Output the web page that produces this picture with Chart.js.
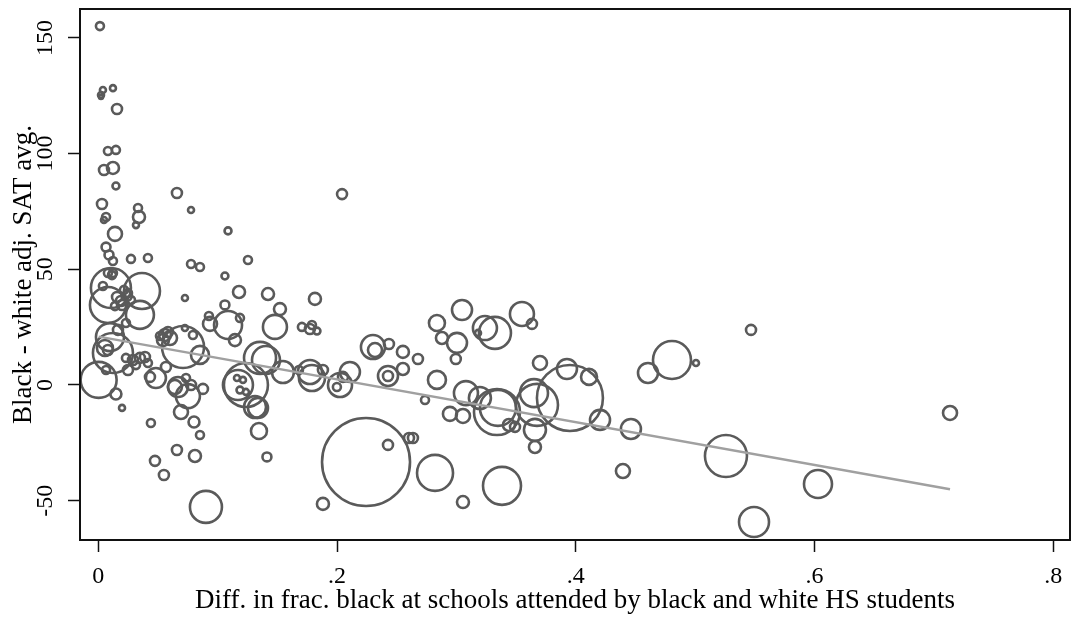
<!DOCTYPE html>
<html>
<head>
<meta charset="utf-8">
<script src="https://cdn.jsdelivr.net/npm/chart.js@4.4.1/dist/chart.umd.min.js"></script>
<style>
    html, body { margin: 0; padding: 0; background: #fff; }
</style>
</head>
<body>
<canvas id="myChart" width="1072" height="619"></canvas>
<script>
// diff. in frac. black (x), black - white adj. SAT avg. (y), weight of each college
var xVals = [
    0.0014, 0.0039, 0.0023, 0.0023, 0.0123, 0.0157, 0.0081, 0.0148, 0.0048, 0.0123,
    0.0148, 0.0659, 0.0777, 0.2042, 0.0031, 0.0333, 0.0341, 0.0065, 0.0048, 0.0316,
    0.0140, 0.1087, 0.0065, 0.0090, 0.0123, 0.0274, 0.0416, 0.0777, 0.0852, 0.1254,
    0.1061, 0.0115, 0.0039, 0.0106, 0.0366, 0.1179, 0.1422, 0.1815, 0.0726, 0.1061,
    0.1522, 0.0081, 0.0349, 0.0927, 0.0936, 0.1087, 0.1187, 0.1480, 0.1706, 0.1773,
    0.1790, 0.1832, 0.0081, 0.0123, 0.0157, 0.0190, 0.0240, 0.0140, 0.0249, 0.0199,
    0.0274, 0.0215, 0.0003, 0.0065, 0.0148, 0.0199, 0.0123, 0.0056, 0.0081, 0.0098,
    0.0165, 0.0232, 0.0232, 0.0291, 0.0349, 0.0391, 0.0416, 0.0316, 0.0249, 0.0433,
    0.0483, 0.0567, 0.0559, 0.0584, 0.0542, 0.0601, 0.0517, 0.0710, 0.0726, 0.0793,
    0.0852, 0.0668, 0.0642, 0.0735, 0.0777, 0.0877, 0.0751, 0.0693, 0.0802, 0.0852,
    0.1145, 0.1170, 0.1237, 0.1162, 0.1212, 0.1187, 0.1237, 0.1313, 0.1338, 0.1346,
    0.1413, 0.1355, 0.1405, 0.1547, 0.1773, 0.1790, 0.1681, 0.1882, 0.2025, 0.1999,
    0.2050, 0.2108, 0.2243, 0.2427, 0.1882, 0.2603, 0.2636, 0.0902, 0.0441, 0.0475,
    0.0550, 0.0659, 0.0810, 0.2301, 0.2318, 0.2435, 0.2552, 0.2552, 0.2427, 0.2427,
    0.2678, 0.3047, 0.2837, 0.2879, 0.3005, 0.2995, 0.3239, 0.3323, 0.3181, 0.3549,
    0.3633, 0.2837, 0.2737, 0.3080, 0.3197, 0.3340, 0.3348, 0.2946, 0.3055, 0.3440,
    0.3491, 0.3658, 0.3658, 0.3650, 0.3675, 0.3700, 0.3951, 0.3926, 0.4111, 0.4203,
    0.2821, 0.3382, 0.3055, 0.4395, 0.4462, 0.5468, 0.4806, 0.4605, 0.5007, 0.5258,
    0.6029, 0.5493, 0.7135
];
var yVals = [
    155.1, 127.5, 125.3, 124.5, 128.3, 119.3, 101.1, 101.6, 92.9, 93.8,
    86.0, 83.0, 75.6, 82.5, 78.2, 76.5, 72.6, 72.6, 71.3, 69.1,
    65.3, 66.6, 59.6, 56.2, 53.6, 54.5, 54.9, 52.3, 51.0, 54.0,
    47.1, 47.5, 42.8, 41.9, 40.6, 40.2, 39.3, 37.2, 37.6, 34.6,
    32.8, 34.6, 30.3, 29.8, 26.4, 25.9, 29.0, 25.1, 25.1, 24.2,
    25.9, 23.3, 48.4, 48.4, 38.0, 36.3, 38.5, 34.1, 39.8, 34.6,
    36.7, 41.1, 2.2, 6.5, -3.9, -9.9, 13.8, 16.0, 15.1, 20.7,
    23.8, 26.8, 11.7, 10.8, 11.7, 12.1, 9.5, 8.6, 6.5, 3.5,
    3.0, 7.8, 21.6, 22.9, 19.4, 20.3, 21.2, 16.4, 24.6, 21.6,
    13.0, -0.9, -0.9, 3.0, 0, -1.7, -4.8, -11.7, -16.0, -21.6,
    19.4, 0, 0, 3.0, 2.2, -2.2, -3.0, -9.5, -9.9, -19.9,
    -31.1, 11.7, 10.8, 5.6, 5.6, 3.0, 6.5, 6.5, 0, -0.9,
    3.5, 5.6, -33.3, -25.9, -51.4, -22.9, -22.9, -52.7, -16.4, -32.8,
    -38.9, -28.1, -30.7, 16.4, 15.1, 17.7, 14.3, 6.9, 3.9, 3.9,
    11.2, 32.4, 26.8, 20.3, 18.2, 11.2, 24.6, 22.5, 22.5, 30.7,
    26.4, 2.2, -6.5, -3.5, -5.6, -11.7, -9.9, -12.5, -13.4, -17.3,
    -18.1, -19.4, -26.8, -3.5, -8.6, 9.5, -5.6, 6.9, 3.5, -15.1,
    -38.0, -43.6, -50.6, -37.2, -19.0, 23.8, 10.8, 5.2, 9.5, -30.7,
    -42.8, -59.2, -12.1
];
var weights = [
    16, 9, 9, 4, 9, 25, 16, 16, 25, 36,
    12, 25, 9, 25, 25, 16, 36, 16, 9, 9,
    49, 12, 20, 20, 16, 16, 16, 16, 16, 16,
    12, 16, 16, 400, 324, 36, 36, 36, 9, 20,
    36, 324, 196, 16, 49, 196, 16, 144, 16, 25,
    16, 12, 16, 16, 25, 25, 25, 16, 16, 25,
    16, 16, 324, 16, 30, 9, 400, 64, 25, 196,
    25, 16, 16, 25, 25, 25, 16, 16, 25, 25,
    100, 25, 36, 25, 36, 49, 16, 441, 9, 16,
    81, 100, 49, 16, 25, 25, 144, 49, 30, 16,
    36, 225, 484, 9, 9, 12, 9, 121, 100, 64,
    20, 256, 196, 121, 144, 169, 16, 25, 144, 16,
    25, 100, 1936, 25, 36, 25, 25, 256, 16, 25,
    25, 25, 36, 144, 49, 25, 36, 36, 100, 25,
    25, 100, 64, 36, 100, 25, 144, 256, 9, 144,
    25, 81, 16, 144, 121, 529, 324, 49, 49, 36,
    25, 121, 36, 196, 441, 49, 1089, 100, 64, 100,
    324, 361, 36, 49, 100, 25, 361, 100, 9, 441,
    196, 225, 49
];

// fitted line end points
var fitX = [0.0003, 0.7135];
var fitY = [20.9, -45.1];

var xTicks = [0, 0.2, 0.4, 0.6, 0.8];
var yTicks = [-50, 0, 50, 100, 150];

var serif = "'Liberation Serif', 'DejaVu Serif', serif";

var bubbles = xVals.map(function (x, i) {
    return { x: x, y: yVals[i], r: Math.sqrt(weights[i]) };
});
var fitLine = fitX.map(function (x, i) {
    return { x: x, y: fitY[i] };
});

// box round the plot region
var frameBox = {
    id: 'frameBox',
    afterDatasetsDraw: function (chart) {
        var a = chart.chartArea, c = chart.ctx;
        c.save();
        c.strokeStyle = '#111';
        c.lineWidth = 2;
        c.strokeRect(a.left, a.top, a.right - a.left, a.bottom - a.top);
        c.restore();
    }
};

function noPad(s) {
    s.paddingLeft = 0;
    s.paddingRight = 0;
    s.paddingTop = 0;
    s.paddingBottom = 0;
}

var myChart = new Chart("myChart", {
    type: "bubble",
    data: {
        datasets: [{
            type: 'line',
            data: fitLine,
            borderColor: '#a0a0a0',
            borderWidth: 2.5,
            pointRadius: 0,
            fill: false,
            order: 0
        }, {
            data: bubbles,
            borderColor: '#5a5a5a',
            backgroundColor: 'rgba(0,0,0,0)',
            borderWidth: 2.6,
            order: 1
        }]
    },
    options: {
        responsive: false,
        animation: false,
        devicePixelRatio: 1,
        layout: { autoPadding: false, padding: { top: 9, right: 2, left: 0, bottom: 0 } },
        plugins: {
            legend: { display: false },
            tooltip: { enabled: false }
        },
        scales: {
            x: {
                type: 'linear',
                min: -0.0153,
                max: 0.814,
                afterBuildTicks: function (s) {
                    s.ticks = xTicks.map(function (v) { return { value: v }; });
                },
                afterFit: function (s) { s.height = 79; noPad(s); },
                grid: { drawOnChartArea: false, tickLength: 12, tickWidth: 1.5, tickColor: '#111' },
                border: { display: true, color: '#111', width: 2 },
                ticks: {
                    padding: 10,
                    color: '#000',
                    font: { family: serif, size: 24 },
                    callback: function (v) { return String(v).replace(/^0\./, '.'); }
                },
                title: {
                    display: true,
                    text: 'Diff. in frac. black at schools attended by black and white HS students',
                    color: '#000',
                    font: { family: serif, size: 27 },
                    padding: { top: 0, bottom: 2 }
                }
            },
            y: {
                type: 'linear',
                min: -67.0,
                max: 162.5,
                afterBuildTicks: function (s) {
                    s.ticks = yTicks.map(function (v) { return { value: v }; });
                },
                afterFit: function (s) { s.width = 80; noPad(s); },
                grid: { drawOnChartArea: false, tickLength: 12, tickWidth: 1.5, tickColor: '#111' },
                border: { display: true, color: '#111', width: 2 },
                ticks: {
                    minRotation: 90,
                    maxRotation: 90,
                    crossAlign: 'center',
                    padding: 4,
                    color: '#000',
                    font: { family: serif, size: 24 }
                },
                title: {
                    display: true,
                    text: 'Black - white adj. SAT avg.',
                    color: '#000',
                    font: { family: serif, size: 27 },
                    padding: { top: 8, bottom: 0 }
                }
            }
        }
    },
    plugins: [frameBox]
});
</script>
</body>
</html>
